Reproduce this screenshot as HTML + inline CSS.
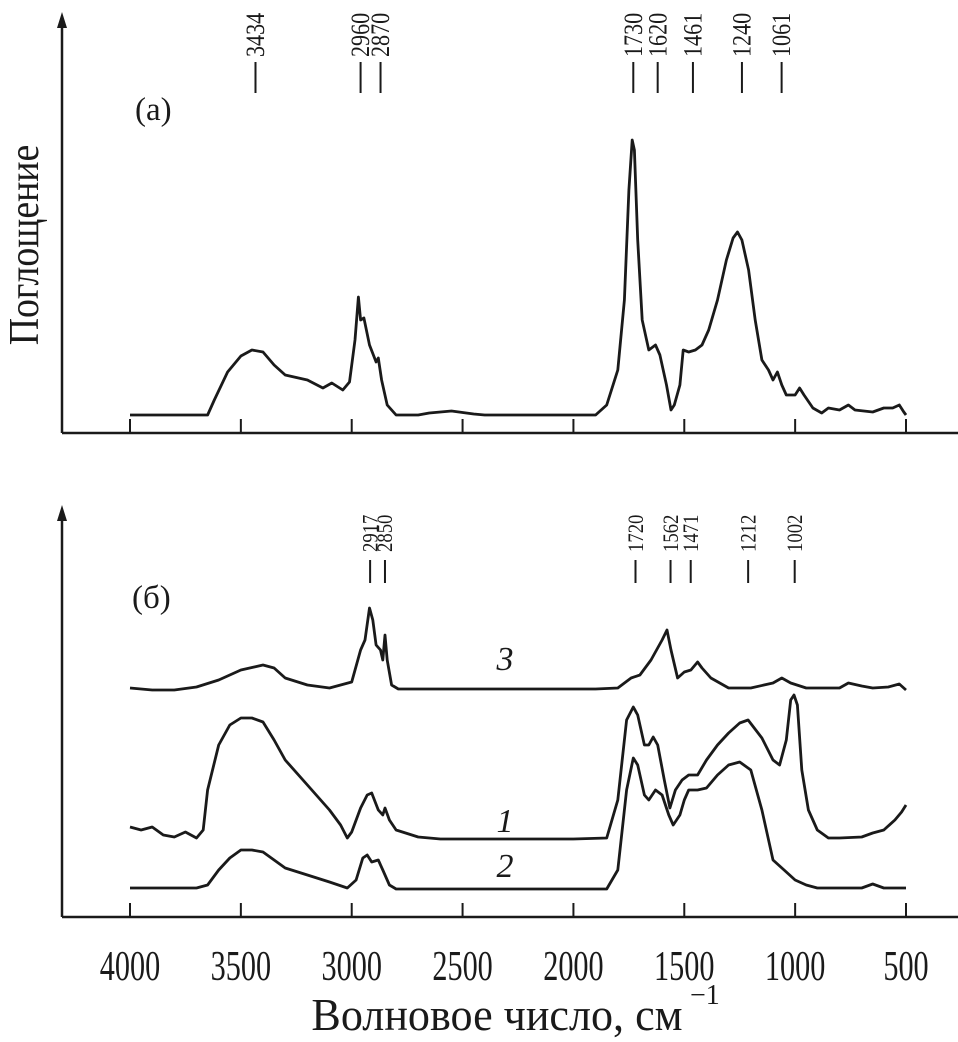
<!DOCTYPE html>
<html><head><meta charset="utf-8"><style>
html,body{margin:0;padding:0;background:#fff}
svg{display:block}
text{font-family:"Liberation Serif",serif;fill:#1a1a1a}
</style></head><body>
<svg id="chart" width="958" height="1042" viewBox="0 0 958 1042" xmlns="http://www.w3.org/2000/svg">
<g id="axes" stroke="#1a1a1a" stroke-width="2.5" fill="none"></g>
<g id="marks"></g>
<text transform="translate(38,245) rotate(-90) scale(0.9,1)" text-anchor="middle" font-size="42">Поглощение</text>
<text x="135" y="120" font-size="33">(а)</text>
<text x="132" y="608" font-size="33">(б)</text>
<text transform="translate(497,1030) scale(0.98,1)" text-anchor="middle" font-size="45">Волновое число, см</text>
<text x="690" y="1004" font-size="28">−1</text>
</svg>
<script>
const xTicks=[4000,3500,3000,2500,2000,1500,1000,500];
const peaksA=[3434,2960,2870,1730,1620,1461,1240,1061];
const peaksB=[2917,2850,1720,1562,1471,1212,1002];
const waveA=[4000,3650,3620,3560,3500,3450,3400,3350,3300,3200,3130,3090,3040,3010,2985,2970,2960,2945,2920,2890,2880,2865,2840,2800,2700,2650,2550,2450,2400,1900,1850,1800,1770,1750,1735,1725,1710,1690,1660,1630,1610,1580,1560,1545,1520,1505,1480,1450,1420,1390,1350,1310,1280,1260,1240,1210,1180,1150,1120,1100,1080,1060,1040,1000,980,960,920,880,850,800,760,730,650,600,560,530,510,500];
const absA=[415,415,400,372,356,350,352,365,375,380,388,383,390,382,340,297,320,318,345,362,358,380,405,415,415,413,411,414,415,415,405,370,300,190,140,150,240,320,350,345,355,385,410,405,385,350,352,350,345,330,300,260,238,232,240,270,320,360,370,380,372,385,395,395,388,395,408,413,408,410,405,410,412,408,408,405,412,415].map(p=>(433-p)/400);
const wave3=[4000,3900,3800,3700,3600,3500,3400,3350,3300,3200,3100,3000,2960,2940,2920,2905,2890,2870,2860,2850,2840,2820,2790,2500,1900,1800,1740,1700,1650,1600,1578,1560,1530,1500,1470,1440,1420,1380,1300,1200,1100,1060,1020,950,800,760,700,650,580,530,500];
const abs3=[688,690,690,687,680,670,665,668,678,685,688,682,650,640,608,620,645,650,660,635,660,685,689,689,689,688,678,675,660,640,630,650,678,672,670,662,668,678,688,688,683,678,683,688,688,683,686,688,687,684,690].map(p=>(917-p)/400);
const wave1=[4000,3950,3900,3850,3800,3750,3700,3670,3650,3600,3550,3500,3450,3400,3350,3300,3200,3100,3050,3020,3000,2960,2930,2910,2880,2860,2850,2830,2800,2700,2600,2000,1850,1800,1760,1730,1710,1680,1660,1640,1620,1590,1565,1540,1510,1480,1440,1400,1350,1300,1250,1212,1150,1100,1070,1040,1020,1005,990,970,940,900,850,800,700,650,600,550,520,500];
const abs1=[827,830,827,835,837,832,838,830,790,745,725,718,718,722,740,760,785,810,825,838,832,808,795,793,810,815,808,820,830,837,839,839,838,800,720,707,715,745,745,737,745,780,808,790,780,775,775,760,745,733,723,720,738,760,765,740,700,695,705,770,810,830,838,838,837,833,830,820,812,805].map(p=>(917-p)/400);
const wave2=[4000,3700,3650,3600,3550,3500,3450,3400,3350,3300,3200,3100,3020,2980,2950,2930,2910,2880,2860,2830,2800,1850,1800,1760,1730,1710,1680,1660,1630,1600,1570,1550,1520,1500,1480,1440,1400,1350,1300,1250,1200,1150,1100,1050,1000,950,900,700,650,600,500];
const abs2=[888,888,885,870,858,850,850,852,860,868,875,882,888,880,858,855,862,860,870,885,889,889,870,790,758,765,795,800,790,795,815,825,815,800,790,790,788,775,765,762,770,810,860,870,880,885,888,888,884,888,888].map(p=>(917-p)/400);

const NS='http://www.w3.org/2000/svg';
const svg=document.getElementById('chart');
const axes=document.getElementById('axes');
const marks=document.getElementById('marks');
const xS=w=>130+(4000-w)*(776/3500);
const yA=v=>433-v*400;
const yB=v=>917-v*400;
function mk(tag,attrs,parent){const e=document.createElementNS(NS,tag);for(const k in attrs)e.setAttribute(k,attrs[k]);parent.appendChild(e);return e;}

[[433,12,'a'],[917,505,'b']].forEach(([base,top,p])=>{
  let l=mk('path',{d:`M62,${base}V${top+10}M62,${base}H958`},axes);
  
  
  let a=mk('path',{d:`M62,${top}L57,${top+16}L67,${top+16}Z`,fill:'#1a1a1a',stroke:'none'},svg);
  
  
  xTicks.forEach(t=>{
    let tk=mk('line',{x1:xS(t),x2:xS(t),y1:base,y2:base-14,stroke:'#1a1a1a','stroke-width':2},svg);
    
    
  });
});
xTicks.forEach(t=>{
  let tx=mk('text',{transform:`translate(${xS(t)},980) scale(0.72,1)`,'text-anchor':'middle','font-size':42},svg);
  tx.textContent=t;
  
  
});
function peaks(arr,y0,y1,ty,p,fs){
  arr.forEach(w=>{
    let x=xS(w);
    let d=mk('line',{x1:x,x2:x,y1:y0,y2:y1,stroke:'#1a1a1a','stroke-width':2},svg);
    
    
    let t=mk('text',{transform:`translate(${x+fs*0.33},${ty}) rotate(-90) scale(0.85,1)`,'font-size':fs},svg);
    t.textContent=w;
    
    
  });
}
peaks(peaksA,62,93,57,'a',26);
peaks(peaksB,560,583,552,'b',22);
function line(w,v,ys,name){
  let d=w.map((x,i)=>(i?'L':'M')+xS(x).toFixed(1)+','+ys(v[i]).toFixed(1)).join('');
  let p=mk('path',{d:d,fill:'none',stroke:'#1a1a1a','stroke-width':2.8,'stroke-linejoin':'round'},marks);
  
  
}
line(waveA,absA,yA,'spectrum-a');
line(wave3,abs3,yB,'spectrum-3');
line(wave1,abs1,yB,'spectrum-1');
line(wave2,abs2,yB,'spectrum-2');
[['3',670],['1',832],['2',877]].forEach(([s,y])=>{
  let t=mk('text',{x:505,y:y,'font-size':34,'font-style':'italic','text-anchor':'middle'},svg);
  t.textContent=s;
  
  
});
</script>
</body></html>
